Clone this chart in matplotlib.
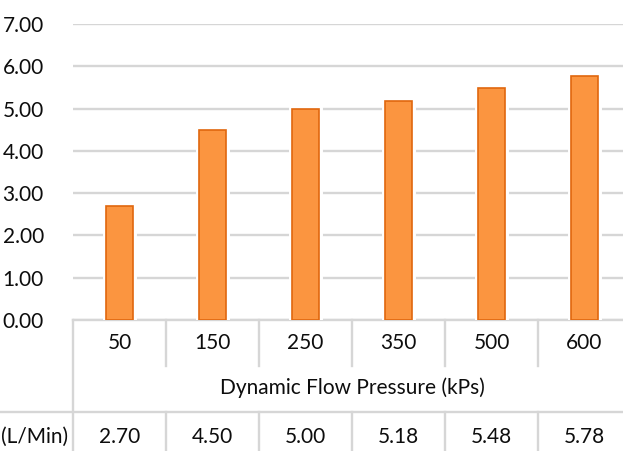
import matplotlib
matplotlib.use("Agg")
import matplotlib.pyplot as plt

categories = ["50", "150", "250", "350", "500", "600"]
flow_rate = [2.70, 4.50, 5.00, 5.18, 5.48, 5.78]
value_labels = ["2.70", "4.50", "5.00", "5.18", "5.48", "5.78"]
yticks = [0, 1, 2, 3, 4, 5, 6, 7]
xlabel = "Dynamic Flow Pressure (kPs)"
row_label = "(L/Min)"

plt.rcParams['font.family'] = ['Lato', 'DejaVu Sans']
W, H = 623, 451
fig = plt.figure(figsize=(W / 100, H / 100), dpi=100)

# axes in pixel geometry (from top): top=24, bottom=320, left=73, right=631
left, right, top, bottom = 73, 631, 24, 320
ax = fig.add_axes([left / W, (H - bottom) / H, (right - left) / W, (bottom - top) / H])

x = list(range(len(categories)))
txt_col = "#0d0d0d"
grid_col = "#d6d6d6"
fs = 15

# white halos to break gridlines around bars, then bars
ax.bar(x, flow_rate, width=0.30, color="white", edgecolor="white", linewidth=5, zorder=2)
ax.bar(x, flow_rate, width=0.30, color="#fb9540", edgecolor="#e0670e", linewidth=1.2, zorder=3)

ax.set_xlim(-0.5, len(categories) - 0.5)
ax.set_ylim(0, 7)
ax.set_yticks(yticks)
ax.set_yticklabels([f"{v:.2f}" for v in yticks], fontsize=fs, color=txt_col)
ax.tick_params(axis="y", length=0, pad=21)
ax.set_xticks([])
ax.yaxis.grid(True, color=grid_col, linewidth=1.7, zorder=1)
ax.set_axisbelow(True)
for s in ["top", "right", "left", "bottom"]:
    ax.spines[s].set_visible(False)

# table below the axes
ah = bottom - top
aw = right - left
def fy(p):
    return (bottom - p) / ah
trans = ax.get_xaxis_transform()
line_kw = dict(color=grid_col, linewidth=1.7, clip_on=False, zorder=1)

ax.plot([-0.5, len(categories) - 0.5], [0, 0], transform=trans, **line_kw)
ax.plot([-0.5, -0.5], [0, fy(455)], transform=trans, **line_kw)
for i in range(1, len(categories)):
    ax.plot([i - 0.5, i - 0.5], [0, fy(366)], transform=trans, **line_kw)
    ax.plot([i - 0.5, i - 0.5], [fy(412), fy(455)], transform=trans, **line_kw)
ax.plot([-0.5 - (left + 2) / aw * len(categories), len(categories) - 0.5],
        [fy(412), fy(412)], transform=trans, **line_kw)

for i, c in enumerate(categories):
    ax.text(i, fy(343), c, transform=trans, ha="center", va="center",
            fontsize=fs, color=txt_col)
for i, v in enumerate(value_labels):
    ax.text(i, fy(437), v, transform=trans, ha="center", va="center",
            fontsize=fs, color=txt_col)
ax.text((len(categories) - 1) / 2, fy(388), xlabel, transform=trans,
        ha="center", va="center", fontsize=fs, color=txt_col)
fig.text(68 / W, (H - 437) / H, row_label, ha="right", va="center",
         fontsize=fs, color=txt_col)

fig.savefig("out.png", dpi=100)
